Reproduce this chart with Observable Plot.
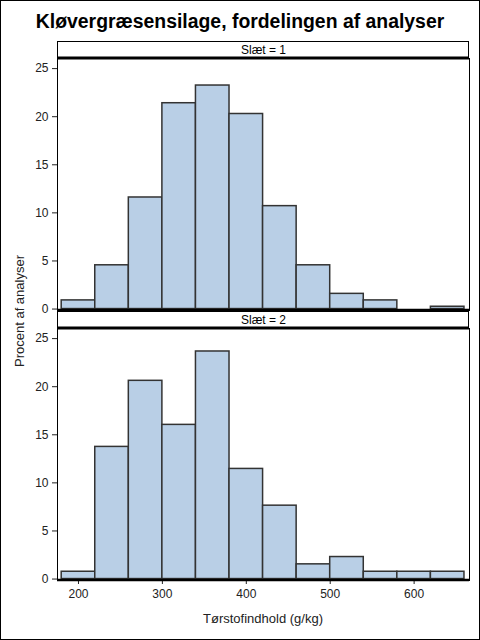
<!DOCTYPE html>
<html><head><meta charset="utf-8">
<script src="https://cdn.jsdelivr.net/npm/d3@7"></script>
<script src="https://cdn.jsdelivr.net/npm/@observablehq/plot@0.6"></script>
<style>
body{margin:0;background:#fff;font-family:"Liberation Sans",Arial,sans-serif;}
#wrap{position:relative;width:480px;height:640px;overflow:hidden;background:#fff;}
#border{position:absolute;left:0;top:0;width:480px;height:640px;box-sizing:border-box;border:1px solid #000;pointer-events:none;}
#title{position:absolute;left:0;top:9px;width:480px;text-align:center;font-weight:bold;font-size:19.4px;line-height:24px;color:#000;}
#ylabel{position:absolute;left:19px;top:311px;transform:translate(-50%,-50%) rotate(-90deg);white-space:nowrap;font-size:13px;color:#222;}
#xlabel{position:absolute;left:57px;width:412px;top:611px;text-align:center;white-space:nowrap;font-size:13px;color:#222;}
#chart{position:absolute;left:0;top:40px;}
#chart g[aria-label="y-axis tick"], #chart g[aria-label="x-axis tick"]{stroke:#777;}
</style></head><body>
<div id="wrap">
<div id="title">Kløvergræsensilage, fordelingen af analyser</div>
<div id="chart"></div>
<div id="ylabel">Procent af analyser</div>
<div id="xlabel"></div>
<div id="border"></div>
</div>
<script>
const binEdges = [180,220,260,300,340,380,420,460,500,540,580,620,660];
const slaetLevels = [1, 2];
const slaet1Pct = [0.9,4.55,11.6,21.4,23.24,20.28,10.7,4.55,1.58,0.9,0,0.24];
const slaet2Pct = [0.76,13.74,20.61,16.03,23.66,11.45,7.63,1.53,2.29,0.76,0.76,0.76];
const xTicks = [200,300,400,500,600];
const yTicks = [0,5,10,15,20,25];
const xLabel = "Tørstofindhold (g/kg)";
document.getElementById("xlabel").textContent = xLabel;

const seriesPct = [slaet1Pct, slaet2Pct];
const rows = [];
slaetLevels.forEach((s, k) => seriesPct[k].forEach((v, i) =>
  rows.push({slaet: s, x1: binEdges[i], x2: binEdges[i + 1], pct: v})));
const headers = slaetLevels.map(s => ({slaet: s, label: `Slæt = ${s}`}));

const headerH = 17;
function headerBox(index, scales, values, dims) {
  const g = d3.create("svg:g");
  const x0 = dims.marginLeft, x1 = dims.width - dims.marginRight;
  const yt = dims.marginTop, yb = dims.height - dims.marginBottom;
  g.append("rect").attr("x", x0 + 0.5).attr("y", yt - headerH + 0.5)
    .attr("width", x1 - x0 - 1).attr("height", headerH)
    .attr("fill", "white").attr("stroke", "black");
  g.append("line").attr("x1", x0).attr("x2", x1).attr("y1", yt).attr("y2", yt)
    .attr("stroke", "black").attr("stroke-width", 3);
  g.append("line").attr("x1", x0).attr("x2", x1).attr("y1", yb).attr("y2", yb)
    .attr("stroke", "black").attr("stroke-width", 2.5);
  return g.node();
}

const chart = Plot.plot({
  width: 480,
  height: 598,
  marginLeft: 57,
  marginRight: 11,
  marginTop: 17,
  marginBottom: 57,
  style: {fontFamily: "Liberation Sans, Arial, sans-serif", fontSize: "12px", color: "#222", background: "white"},
  x: {domain: [175, 666], ticks: xTicks, tickSize: 4, label: null},
  y: {domain: [-0.15, 26.05], ticks: yTicks, tickSize: 5, label: null},
  fy: {domain: slaetLevels, axis: null, padding: 0.0664},
  marks: [
    Plot.rectY(rows, {x1: "x1", x2: "x2", y: "pct", fy: "slaet", fill: "#b9cfe6", stroke: "#333", strokeWidth: 1.5}),
    Plot.frame({stroke: "black"}),
    headerBox,
    Plot.text(headers, {fy: "slaet", text: "label", frameAnchor: "top", lineAnchor: "middle", dy: -8.5, fontSize: 12, fill: "#000"})
  ]
});
document.getElementById("chart").appendChild(chart);
</script>
</body></html>
